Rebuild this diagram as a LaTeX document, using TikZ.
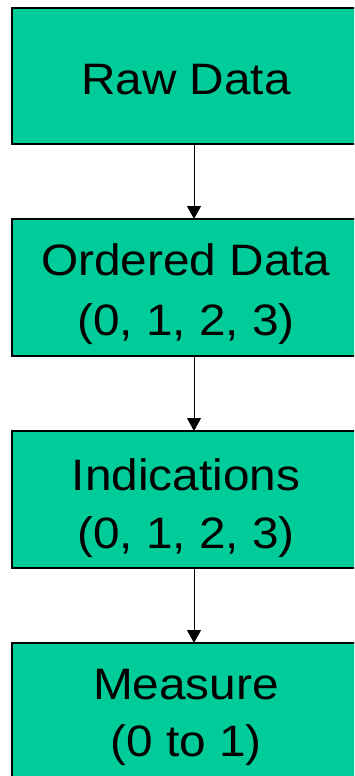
\documentclass[tikz,border=0pt]{standalone}
\usepackage{fontspec}
\setmainfont{Liberation Sans}
\usetikzlibrary{arrows.meta}
\definecolor{boxgreen}{RGB}{0,204,153}
\newcommand{\wideline}[1]{\scalebox{1.085}[1]{#1}}
\tikzset{
  stage/.style={draw=black, line width=1.5pt, fill=boxgreen, rectangle,
    minimum width=364pt, minimum height=137pt, inner sep=0pt, outer sep=0pt},
  label/.style={anchor=base, inner sep=0pt, font=\fontsize{44}{52}\selectfont},
  flow/.style={line width=1pt, -{Triangle[width=14pt,length=13pt]}}
}
\begin{document}
\begin{tikzpicture}[x=1pt,y=1pt]
  \useasboundingbox (0,0) rectangle (354,-776);
  \clip (0,0) rectangle (354,-776);
  \fill[white] (0,0) rectangle (354,-776);

  % the four stages
  \node[stage, minimum height=136pt] (raw) at (194,-76) {};
  \node[stage] (ordered) at (194,-287.5) {};
  \node[stage] (ind) at (194,-499.5) {};
  \node[stage] (meas) at (194,-711.5) {};

  % stage captions
  \node[label] (rawA) at (186,-94.5) {\wideline{Raw Data}};
  \node[label] (ordA) at (186,-275.5) {\wideline{Ordered Data}};
  \node[label] (ordB) at (186,-335) {\wideline{(0, 1, 2, 3)}};
  \node[label] (indA) at (186,-490) {\wideline{Indications}};
  \node[label] (indB) at (186,-548) {\wideline{(0, 1, 2, 3)}};
  \node[label] (meaA) at (186,-699) {\wideline{Measure}};
  \node[label] (meaB) at (186,-756) {\wideline{(0 to 1)}};

  % connectors
  \draw[flow] (raw.south) -- (ordered.north);
  \draw[flow] (ordered.south) -- (ind.north);
  \draw[flow] (ind.south) -- (meas.north);
\end{tikzpicture}
\end{document}
